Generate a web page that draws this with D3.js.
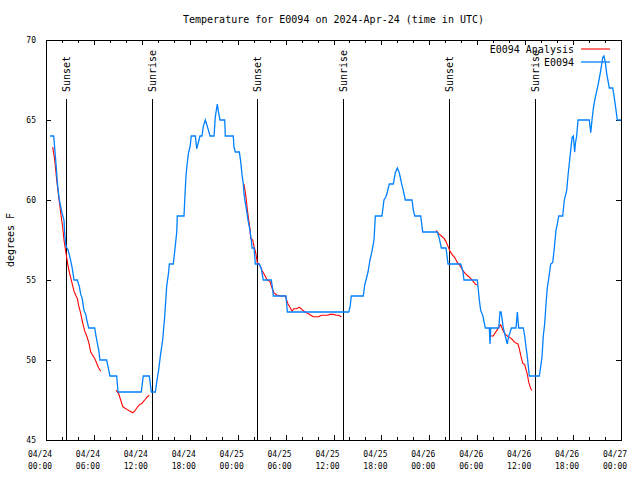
<!DOCTYPE html>
<html><head><meta charset="utf-8">
<script src="https://cdn.jsdelivr.net/npm/d3@7"></script>
<style>
body{margin:0;background:#fff}
svg{display:block}
text{font-family:"DejaVu Sans Mono",monospace;fill:#000}
</style>
</head><body><svg id="c" width="640" height="480"></svg>
<script>
const title = "Temperature for E0094 on 2024-Apr-24 (time in UTC)";
const yLabel = "degrees F";
const tickHours = [0,6,12,18,24,30,36,42,48,54,60,66,72];
const tickDates = ["04/24","04/24","04/24","04/24","04/25","04/25","04/25","04/25","04/26","04/26","04/26","04/26","04/27"];
const tickTimes = ["00:00","06:00","12:00","18:00","00:00","06:00","12:00","18:00","00:00","06:00","12:00","18:00","00:00"];
const yTicks = [45,50,55,60,65,70];
const sunHours = [2.54,13.31,26.46,37.23,50.50,61.27];
const sunNames = ["Sunset","Sunrise","Sunset","Sunrise","Sunset","Sunrise"];
const seriesNames = ["E0094 Analysis","E0094"];
const seriesColors = ["#ff0000","#0080ff"];

// E0094 observations (hours since 04/24 00:00 UTC, deg F)
const obsHours = [0.50,0.96,1.13,1.29,1.44,1.67,1.75,2.00,2.25,2.34,2.50,2.75,3.01,3.26,3.51,3.92,4.17,4.35,4.51,4.76,5.01,5.10,5.35,6.10,6.26,6.60,6.76,7.60,7.76,8.01,8.85,9.02,11.93,12.18,12.94,13.19,13.69,13.86,14.11,14.36,14.61,14.86,15.11,15.36,15.44,15.94,16.12,16.37,16.44,17.28,17.37,17.53,17.62,17.78,17.87,18.03,18.19,18.70,18.87,19.03,19.28,19.53,19.70,19.95,20.20,20.54,21.04,21.20,21.45,21.63,21.79,22.38,22.45,23.45,23.54,23.70,24.21,24.38,24.54,24.71,24.79,24.96,25.04,25.29,25.54,25.71,25.80,26.05,26.21,26.71,26.96,27.21,28.21,28.39,28.46,30.05,30.22,37.90,38.07,38.23,39.73,39.91,40.07,40.32,40.57,40.82,41.07,41.24,42.07,42.32,42.57,42.74,42.99,43.49,43.74,43.99,44.24,44.49,44.74,44.99,45.83,45.99,46.17,46.92,47.17,49.00,49.25,49.50,50.09,50.34,51.93,52.18,52.34,54.01,54.26,54.43,54.68,55.01,55.51,55.60,55.69,56.69,56.85,56.98,57.10,57.26,57.51,57.76,57.94,58.10,58.27,58.85,59.02,59.10,59.19,59.77,59.94,60.11,60.27,60.52,61.77,61.95,62.11,62.27,62.45,62.61,62.77,62.95,63.20,63.45,63.61,63.86,64.03,64.20,64.70,64.90,65.20,65.36,65.53,65.70,65.87,66.03,66.20,66.28,66.45,66.62,68.03,68.21,68.37,68.53,68.71,68.96,69.21,69.46,69.71,69.87,70.04,70.21,70.54,70.96,71.13,71.38,71.54,72.00];
const obsTemps = [64,64,63,62,61,60,59.8,59.2,58.75,57.9,57.1,56.9,56.4,55.8,55,55,54.6,54.1,53.9,53.1,52.8,52.5,52,52,51.5,50.6,50,50,49.6,49,49,48,48,49,49,48,48,48.6,49.4,50.4,51.25,52.7,54.6,55.5,56,56,56.8,58,59,59,60,61.5,62,62.7,63,63.3,64,64,63.2,63.5,64,64,64.6,65,64.6,64,64,65.2,66,65.4,65,65,64,64,63.3,63,63,62.4,61.6,61,60.4,59.8,59.6,58.75,58.1,57.5,57,57,56,56,55.7,55,55,54.4,54,54,53,53,53.3,54,54,54.7,55,55.5,56.25,56.8,57.5,59,59,60,60.2,60.5,61,61,61.7,62,61.7,61.1,60.6,60,60,59.4,59,59,58,58,57.6,57,57,56,56,55.6,55,55,53.75,53.1,52.8,52,52,51,52,52,53,53,52.6,52,51.5,51,51.5,51.7,52,52,53,52.5,52,52,51.5,50.8,50.2,49,49,49.6,50.2,51.5,52.3,53.5,54.5,55.1,56,56.1,56.8,58.1,58.5,59,59,60,60.6,61.5,62.3,63.1,63.9,64,63,63.5,64,65,65,64.2,65,65.7,66.25,66.8,67.4,68.1,68.9,69,68.6,67.9,67,67,66.5,65.6,65,65];

// E0094 Analysis (null = gap)
const anaHours = [0.84,1.09,1.34,1.59,1.84,2.09,2.25,2.50,2.75,3.01,3.26,3.51,3.76,3.92,4.09,4.35,4.60,4.85,5.10,5.35,5.60,5.85,6.10,6.35,6.60,6.85,null,
 8.77,9.10,9.35,9.60,9.85,10.18,10.52,10.86,11.11,11.36,11.68,12.02,12.36,12.68,12.94,null,
 24.79,25.04,25.21,25.38,25.54,25.63,25.88,26.05,26.30,26.46,26.80,27.05,27.39,27.71,28.05,28.30,28.55,28.89,29.39,29.97,30.30,30.55,30.80,31.05,31.39,31.72,31.97,32.22,32.56,32.81,33.15,33.47,33.81,34.15,34.47,34.81,35.22,35.56,35.98,36.31,36.65,36.98,null,
 48.84,49.17,49.50,49.84,50.09,50.34,50.59,50.84,51.18,51.50,51.84,52.18,52.51,52.84,53.18,53.51,53.84,54.09,null,
 55.69,56.01,56.26,56.51,56.76,56.94,57.10,57.26,57.51,57.76,58.10,58.35,58.69,59.10,59.27,59.44,59.69,59.94,60.11,60.27,60.45,60.70,60.86];
const anaTemps = [63.3,62.5,61.25,60.2,59.2,58.3,57.5,56.7,55.9,55.3,54.8,54.3,54,53.85,53.4,52.9,52.3,51.8,51.5,51.1,50.5,50.3,50.1,49.8,49.5,49.3,null,
 48.1,47.9,47.5,47.1,47.0,46.9,46.8,46.7,46.8,47.0,47.2,47.3,47.5,47.7,47.8,null,
 61,60.2,59.4,58.75,58.2,57.6,57.5,57.1,56.6,56.1,55.9,55.6,55.3,55.0,54.9,54.5,54.2,54.06,54.0,54.0,53.5,53.3,53.06,53.2,53.2,53.3,53.2,53.08,52.96,52.9,52.8,52.7,52.7,52.7,52.8,52.8,52.8,52.85,52.85,52.8,52.8,52.7,null,
 58.1,57.9,57.75,57.6,57.4,57.1,56.8,56.6,56.4,56.1,55.9,55.6,55.4,55.25,55.1,54.9,54.7,54.7,null,
 51.5,51.5,51.7,51.9,52.1,52.2,52.0,51.8,51.6,51.5,51.4,51.3,51.1,51.0,50.7,50.3,49.8,49.7,49.4,49.1,48.6,48.2,48.1];

const L=46,R=621,T=40,B=440;
const svg = d3.select("#c");
const x = d3.scaleLinear().domain([0,72]).range([L,R]);
const y = d3.scaleLinear().domain([45,70]).range([B,T]);
const minorHours = d3.range(0,73,2).filter(h=>h%6!==0);

// title
svg.append("text").attr("x",(L+R)/2).attr("y",23).attr("text-anchor","middle")
  .style("font-size","10px").text(title);

// y label
svg.append("text").attr("transform","translate(14,240) rotate(-90)").attr("text-anchor","middle")
  .style("font-size","10px").text(yLabel);

// axes ticks (inward, mirrored)
function styleAxis(g){g.select(".domain").remove();g.selectAll("line").attr("stroke","#000").attr("shape-rendering","crispEdges");g.selectAll("text").remove();}
svg.append("g").attr("transform",`translate(0,${B})`).call(d3.axisBottom(x).tickValues(tickHours).tickSize(-5)).call(styleAxis);
svg.append("g").attr("transform",`translate(0,${B})`).call(d3.axisBottom(x).tickValues(minorHours).tickSize(-3)).call(styleAxis);
svg.append("g").attr("transform",`translate(0,${T})`).call(d3.axisTop(x).tickValues(tickHours).tickSize(-5)).call(styleAxis);
svg.append("g").attr("transform",`translate(0,${T})`).call(d3.axisTop(x).tickValues(minorHours).tickSize(-3)).call(styleAxis);
svg.append("g").attr("transform",`translate(${L},0)`).call(d3.axisLeft(y).tickValues(yTicks).tickSize(-5)).call(styleAxis);
svg.append("g").attr("transform",`translate(${R},0)`).call(d3.axisRight(y).tickValues(yTicks).tickSize(-5)).call(styleAxis);

// x tick labels
const xl = svg.append("g").selectAll("text").data(tickHours).join("text")
  .attr("text-anchor","middle").style("font-size","8px");
xl.append("tspan").attr("x",d=>x(d)-6).attr("y",457).text((d,i)=>tickDates[i]);
xl.append("tspan").attr("x",d=>x(d)-6).attr("y",468.5).text((d,i)=>tickTimes[i]);

// y tick labels
svg.append("g").selectAll("text").data(yTicks).join("text")
  .attr("x",36).attr("y",d=>y(d)).attr("dy","0.36em").attr("text-anchor","end")
  .style("font-size","8px").text(d=>d);

// sunrise / sunset
const sg = svg.append("g");
sg.selectAll("line").data(sunHours).join("line")
  .attr("x1",d=>x(d)).attr("x2",d=>x(d)).attr("y1",99).attr("y2",B)
  .attr("stroke","#000").attr("stroke-width",1).attr("shape-rendering","crispEdges");
sg.selectAll("text").data(sunHours).join("text")
  .attr("transform",d=>`translate(${x(d)+4},92) rotate(-90)`)
  .attr("text-anchor","start").style("font-size","10px").text((d,i)=>sunNames[i]);

// series
const obs = obsHours.map((h,i)=>({h,t:obsTemps[i]}));
const ana = anaHours.map((h,i)=>({h,t:anaTemps[i]}));
const line = d3.line().defined(d=>d.h!==null && d.t!==null).x(d=>x(d.h)).y(d=>y(d.t));

svg.append("path").datum(ana).attr("d",line).attr("fill","none")
  .attr("stroke",seriesColors[0]).attr("stroke-width",1.1);
svg.append("path").datum(obs).attr("d",line).attr("fill","none")
  .attr("stroke",seriesColors[1]).attr("stroke-width",1.3);

// legend
const lg = svg.append("g");
[0,1].forEach(i=>{
  const yy = 49 + i*13;
  lg.append("text").attr("x",574).attr("y",yy).attr("dy","0.36em").attr("text-anchor","end")
    .style("font-size","10px").text(seriesNames[i]);
  lg.append("line").attr("x1",581).attr("x2",610).attr("y1",yy).attr("y2",yy)
    .attr("stroke",seriesColors[i]).attr("stroke-width",i?1.3:1.1);
});

// border
svg.append("rect").attr("x",L).attr("y",T).attr("width",R-L).attr("height",B-T)
  .attr("fill","none").attr("stroke","#000").attr("shape-rendering","crispEdges");
</script>
</body></html>
